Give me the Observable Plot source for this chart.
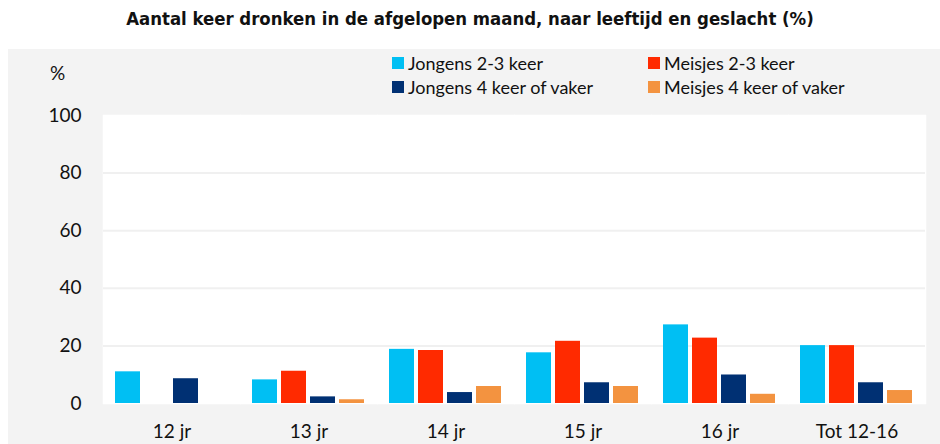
<!DOCTYPE html>
<html>
<head>
<meta charset="utf-8">
<script src="https://cdn.jsdelivr.net/npm/d3@7"></script>
<script src="https://cdn.jsdelivr.net/npm/@observablehq/plot@0.6"></script>
<style>
  html, body { margin: 0; padding: 0; background: #ffffff; }
  body { width: 940px; height: 444px; position: relative; overflow: hidden; font-family: Lato, "Open Sans", sans-serif; }
  #title { position: absolute; left: 0; top: 8px; width: 940px; text-align: center; font-family: "DejaVu Sans Condensed", "Liberation Sans Narrow", Lato, sans-serif; font-stretch: condensed; font-weight: bold; font-size: 18.4px; color: #111; }
  #panel { position: absolute; left: 8px; top: 49px; width: 932px; height: 395px; background: #f3f3f3; }
  #pct { position: absolute; left: 50px; top: 61px; font-size: 19px; color: #111; }
  .leg { position: absolute; font-size: 18px; color: #111; line-height: 1; white-space: nowrap; }
  .sw { position: absolute; width: 12px; height: 12px; }
</style>
</head>
<body>
<div id="title">Aantal keer dronken in de afgelopen maand, naar leeftijd en geslacht (%)</div>
<div id="panel"></div>
<div id="pct">%</div>
<div id="legend"></div>
<script>
const categories = ["12 jr", "13 jr", "14 jr", "15 jr", "16 jr", "Tot 12-16"];
const seriesNames = ["Jongens 2-3 keer", "Meisjes 2-3 keer", "Jongens 4 keer of vaker", "Meisjes 4 keer of vaker"];
const seriesColors = ["#00bff3", "#ff2a00", "#003073", "#f39340"];
const jongens23 = [11.0, 8.2, 18.8, 17.6, 27.3, 20.1];
const meisjes23 = [null, 11.2, 18.4, 21.6, 22.7, 20.1];
const jongens4 = [8.6, 2.3, 3.8, 7.2, 9.9, 7.2];
const meisjes4 = [null, 1.3, 5.9, 5.9, 3.2, 4.5];
const yTicks = [0, 20, 40, 60, 80, 100];

const seriesValues = [jongens23, meisjes23, jongens4, meisjes4];
const rows = [];
categories.forEach((c, i) => {
  seriesNames.forEach((s, k) => {
    const v = seriesValues[k][i];
    if (v != null) rows.push({group: c, series: s, value: v});
  });
});

const chart = Plot.plot({
  width: 932,
  height: 395,
  marginLeft: 92,
  marginRight: 13,
  marginTop: 66,
  marginBottom: 41,
  style: {background: "transparent", fontFamily: "Lato, 'Open Sans', sans-serif", fontSize: "19px", color: "#111"},
  fx: {domain: categories, padding: 0, label: null, tickSize: 0, tickPadding: 21},
  x: {domain: seriesNames, paddingInner: 0.133, paddingOuter: 0.364, axis: null},
  y: {domain: [0, 100], ticks: yTicks, label: null, tickSize: 0, tickPadding: 22},
  color: {domain: seriesNames, range: seriesColors},
  marks: [
    Plot.frame({fill: "white", stroke: "white", strokeWidth: 1.5}),
    Plot.gridY(yTicks.filter(d => d > 0 && d < 100), {stroke: "#f0f0f0", strokeOpacity: 1, strokeWidth: 2}),
    Plot.barY(rows, {fx: "group", x: "series", y: "value", fill: "series"})
  ]
});
document.getElementById("panel").appendChild(chart);

// legend
const legend = document.getElementById("legend");
const legPos = [
  {sx: 392, tx: 408, top: 57},
  {sx: 648, tx: 664, top: 57},
  {sx: 392, tx: 408, top: 81},
  {sx: 648, tx: 664, top: 81}
];
seriesNames.forEach((s, k) => {
  const p = legPos[k];
  const sw = document.createElement("div");
  sw.className = "sw";
  sw.style.left = p.sx + "px";
  sw.style.top = p.top + "px";
  sw.style.background = seriesColors[k];
  legend.appendChild(sw);
  const t = document.createElement("div");
  t.className = "leg";
  t.style.left = p.tx + "px";
  t.style.top = (p.top - 3) + "px";
  t.textContent = s;
  legend.appendChild(t);
});
</script>
</body>
</html>
